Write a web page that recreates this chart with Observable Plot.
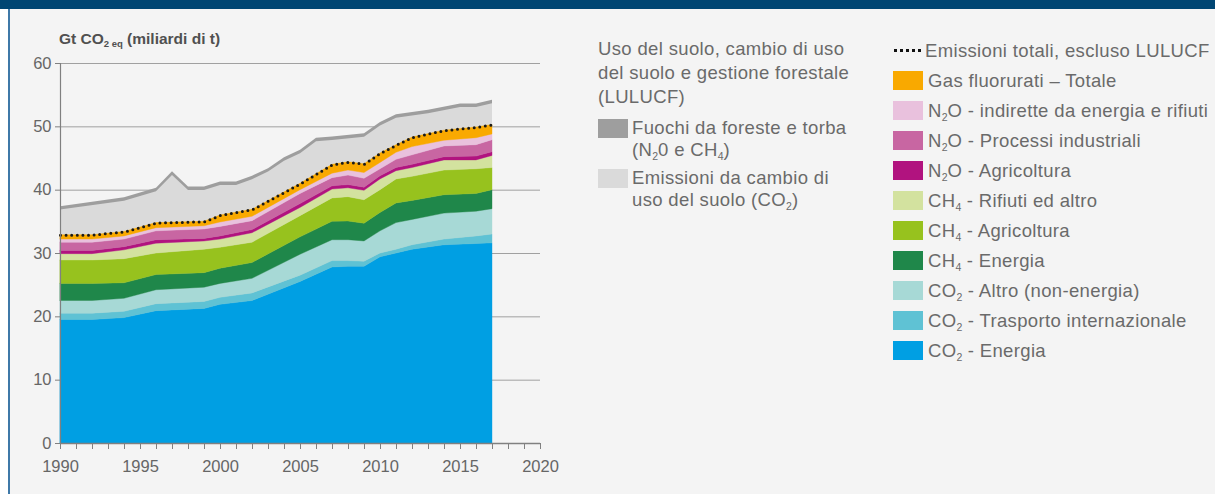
<!DOCTYPE html>
<html>
<head>
<meta charset="utf-8">
<script src="https://cdn.jsdelivr.net/npm/d3@7"></script>
<script src="https://cdn.jsdelivr.net/npm/@observablehq/plot@0.6"></script>
<style>
  body { margin: 0; background: #fff; font-family: "Liberation Sans", Arial, sans-serif; }
  #frame { position: relative; width: 1215px; height: 494px; background: #f4f4f4; overflow: hidden; }
  #topbar { position: absolute; left: 0; top: 0; width: 1215px; height: 9px; background: #004673; }
  #leftstrip { position: absolute; left: 0; top: 9px; width: 8px; height: 485px; background: #fff; }
  #leftline { position: absolute; left: 8px; top: 9px; width: 2px; height: 485px; background: #3f79a8; }
  #chart { position: absolute; left: 0; top: 0; }
  #ylabel { position: absolute; left: 59px; top: 30px; font-size: 15.5px; font-weight: bold; color: #505050; white-space: nowrap; }
  #ylabel sub { font-size: 9.5px; vertical-align: -3px; line-height: 0; }
  .leg { position: absolute; color: #6a6a6a; font-size: 18.5px; letter-spacing: 0.35px; white-space: nowrap; }
  .leg sub { font-size: 10.5px; vertical-align: -4px; line-height: 0; letter-spacing: 0; }
  #col1 { left: 598px; top: 37px; }
  #col1 .head { line-height: 24px; margin-bottom: 8px; }
  .item1 { position: relative; padding-left: 34px; line-height: 22px; margin-bottom: 6px; }
  .item1 .sw { position: absolute; left: 0; top: 2px; width: 30px; height: 19px; }
  #col2 { left: 893px; top: 38px; }
  .item2 { position: relative; padding-left: 35px; height: 30px; line-height: 25px; }
  .item2 .sw { position: absolute; left: 0; top: 3px; width: 30px; height: 19px; }
  .item2 .dots { position: absolute; left: 1px; top: 11px; width: 27px; height: 0; border-top: 3px dotted #111; }
  .item2.first { padding-left: 32px; }
</style>
</head>
<body>
<div id="frame">
  <div id="topbar"></div>
  <div id="leftstrip"></div>
  <div id="leftline"></div>
  <div id="chart"></div>
  <div id="ylabel">Gt CO<sub>2 eq</sub> (miliardi di t)</div>
  <div id="col1" class="leg"></div>
  <div id="col2" class="leg"></div>
</div>
<script>
// ---- Data (Gt CO2 eq) ----
const anni = [1990,1992,1994,1996,1999,2000,2002,2005,2007,2008,2009,2010,2011,2012,2014,2016,2017];
const co2Energia   = [19.5,19.5,19.8,20.9,21.25,21.9,22.5,25.5,27.8,27.9,27.9,29.4,30.0,30.6,31.3,31.5,31.6];
const co2Trasporto = [1.0,1.0,1.0,1.1,1.1,1.1,1.2,1.0,1.0,0.9,0.8,0.6,0.6,0.7,0.9,1.2,1.4];
const co2Altro     = [2.0,2.0,2.05,2.2,2.25,2.2,2.3,3.3,3.3,3.3,3.2,3.5,4.2,4.0,4.1,3.9,4.0];
const ch4Energia   = [2.7,2.7,2.45,2.4,2.3,2.4,2.5,2.75,2.9,2.95,2.8,2.9,3.1,3.0,2.9,2.8,3.0];
const ch4Agricoltura = [3.7,3.7,3.8,3.4,3.7,3.3,3.2,3.35,3.7,3.85,3.7,3.6,3.8,3.8,3.9,3.9,3.5];
const ch4Rifiuti   = [1.0,1.0,1.4,1.55,1.3,1.3,1.5,1.3,1.4,1.4,1.5,1.7,1.3,1.4,1.6,1.4,1.9];
const n2oAgricoltura = [0.5,0.5,0.5,0.55,0.4,0.5,0.5,0.6,0.5,0.5,0.5,0.5,0.5,0.5,0.5,0.6,0.6];
const n2oIndustriali = [1.3,1.3,1.2,1.4,1.5,1.5,1.4,1.6,1.3,1.5,1.4,1.1,1.3,1.5,1.7,1.8,1.9];
const n2oIndirette = [0.5,0.5,0.5,0.5,0.5,0.7,0.7,0.6,0.7,0.8,0.9,1.0,1.1,1.3,0.9,1.1,0.9];
const gasFluorurati = [0.7,0.7,0.7,0.8,0.7,1.1,1.1,1.0,1.4,1.3,1.4,1.5,1.2,1.5,1.6,1.7,1.5];

// LULUCF (top of the whole stack, including forest/peat fires band)
const anniLulucf = [1990,1994,1996,1997,1998,1999,2000,2001,2002,2003,2004,2005,2006,2007,2009,2010,2011,2013,2015,2016,2017];
const totaleConLulucf = [37.4,38.8,40.3,42.9,40.5,40.5,41.3,41.3,42.2,43.4,45.1,46.3,48.2,48.4,48.9,50.7,51.9,52.6,53.6,53.6,54.2];
const fuochi = [0.55,0.55,0.55,0.6,0.55,0.55,0.55,0.55,0.55,0.55,0.55,0.55,0.55,0.55,0.55,0.55,0.55,0.55,0.55,0.55,0.55];

// Series names (bottom to top) and their colours
const nomiSerie = ["CO₂ - Energia","CO₂ - Trasporto internazionale","CO₂ - Altro (non-energia)","CH₄ - Energia","CH₄ - Agricoltura","CH₄ - Rifiuti ed altro","N₂O - Agricoltura","N₂O - Processi industriali","N₂O - indirette da energia e rifiuti","Gas fluorurati – Totale"];
const valoriSerie = [co2Energia,co2Trasporto,co2Altro,ch4Energia,ch4Agricoltura,ch4Rifiuti,n2oAgricoltura,n2oIndustriali,n2oIndirette,gasFluorurati];
const coloriSerie = ["#009fe3","#5fc2d4","#a7d9d6","#1f874a","#97c21e","#d3e29f","#b1137f","#c866a2","#e9c1dd","#f9a900"];

// Tick values
const yTicks = [0,10,20,30,40,50,60];
const xTicks = d3.range(1990, 2021);

// ---- Build tables ----
const lungo = nomiSerie.flatMap((nome, i) => anni.map((anno, j) => ({anno, nome, valore: valoriSerie[i][j]})));
const totali = anni.map((anno, j) => ({anno, tot: d3.sum(valoriSerie, v => v[j])}));
const lulucf = anniLulucf.map((anno, j) => ({anno, top: totaleConLulucf[j], base: totaleConLulucf[j] - fuochi[j]}));

const chart = Plot.plot({
  width: 560,
  height: 480,
  marginLeft: 60,
  marginRight: 20,
  marginTop: 63,
  marginBottom: 37,
  style: {background: "transparent", color: "#666", fontSize: "16.5px", fontFamily: "Liberation Sans, Arial, sans-serif"},
  x: {domain: [1990, 2020], type: "linear"},
  y: {domain: [0, 60]},
  color: {domain: nomiSerie, range: coloriSerie},
  marks: [
    Plot.ruleY(yTicks.slice(1), {x1: 1990, x2: 2020, stroke: "#a0a0a0", strokeWidth: 1}),
    Plot.areaY(lulucf, {x: "anno", y: "top", fill: "#9e9e9e"}),
    Plot.areaY(lulucf, {x: "anno", y: "base", fill: "#dadada"}),
    Plot.areaY(lungo, {x: "anno", y: "valore", fill: "nome", z: "nome", order: nomiSerie, stroke: "nome", strokeWidth: 0.4}),
    Plot.line(totali, {x: "anno", y: "tot", stroke: "#1a1a1a", strokeWidth: 3, strokeDasharray: "0,5.6", strokeLinecap: "round"}),
    Plot.ruleY([0], {x1: 1990, x2: 2020, stroke: "#808080", strokeWidth: 1.5}),
    Plot.ruleX([1990], {y1: 0, y2: 60, stroke: "#808080", strokeWidth: 1.2}),
    Plot.axisY({ticks: yTicks, tickSize: 5, tickPadding: 4, label: null, stroke: "#808080"}),
    Plot.axisX({ticks: xTicks, tickSize: 6, tickPadding: 11, label: null, stroke: "#808080",
      tickFormat: d => (d % 5 === 0 ? String(d) : "")})
  ]
});
document.getElementById("chart").appendChild(chart);

// ---- Legends ----
const sub = s => s.replace(/([A-Z])₂/g, "$1<sub>2</sub>").replace(/([A-Z])₄/g, "$1<sub>4</sub>");
const col1 = document.getElementById("col1");
col1.innerHTML =
  `<div class="head">Uso del suolo, cambio di uso<br>del suolo e gestione forestale<br>(LULUCF)</div>` +
  `<div class="item1"><span class="sw" style="background:#9e9e9e"></span>Fuochi da foreste e torba<br>(N<sub>2</sub>0 e CH<sub>4</sub>)</div>` +
  `<div class="item1"><span class="sw" style="background:#dadada"></span>Emissioni da cambio di<br>uso del suolo (CO<sub>2</sub>)</div>`;

const col2 = document.getElementById("col2");
let html = `<div class="item2 first"><span class="dots"></span>Emissioni totali, escluso LULUCF</div>`;
for (let i = nomiSerie.length - 1; i >= 0; i--) {
  html += `<div class="item2"><span class="sw" style="background:${coloriSerie[i]}"></span>${sub(nomiSerie[i])}</div>`;
}
col2.innerHTML = html;
</script>
</body>
</html>
